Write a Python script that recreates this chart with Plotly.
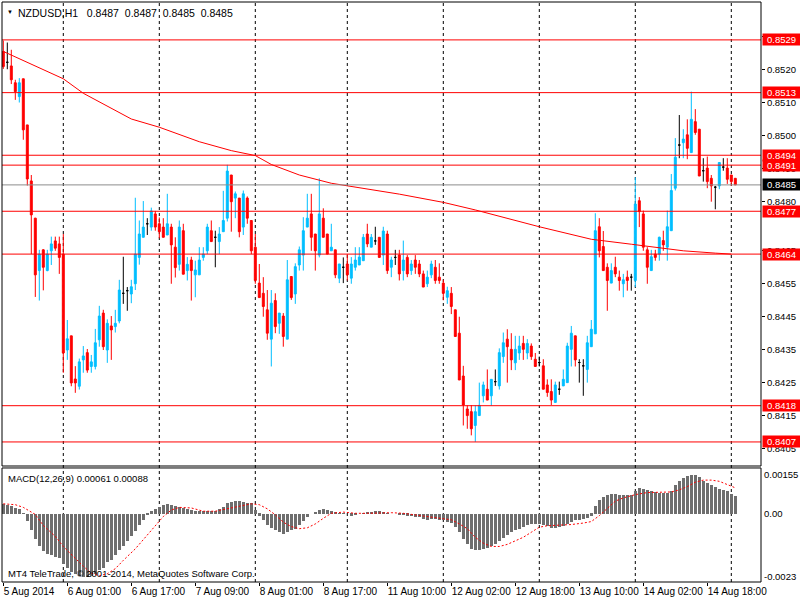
import plotly.graph_objects as go

# hourly bars shown on the chart: (day, first hour, last hour)
sessions = [("5 Aug", 9, 23), ("6 Aug", 0, 23), ("7 Aug", 0, 23), ("8 Aug", 0, 22),
            ("11 Aug", 0, 23), ("12 Aug", 0, 23), ("13 Aug", 0, 23), ("14 Aug", 0, 23),
            ("15 Aug", 0, 1)]

opens = [0.85255, 0.85222, 0.85211, 0.85160, 0.85118, 0.85172, 0.85032, 0.84862, 0.84749, 0.84590,
         0.84653, 0.84590, 0.84650, 0.84680, 0.84671, 0.84640, 0.84349, 0.84392, 0.84261, 0.84239,
         0.84319, 0.84341, 0.84299, 0.84299, 0.84380, 0.84461, 0.84349, 0.84422, 0.84420, 0.84437,
         0.84521, 0.84529, 0.84519, 0.84550, 0.84630, 0.84691, 0.84732, 0.84722, 0.84762, 0.84732,
         0.84722, 0.84698, 0.84722, 0.84661, 0.84609, 0.84711, 0.84590, 0.84622, 0.84577, 0.84577,
         0.84630, 0.84650, 0.84711, 0.84691, 0.84678, 0.84708, 0.84749, 0.84880, 0.84810, 0.84810,
         0.84722, 0.84810, 0.84742, 0.84661, 0.84552, 0.84521, 0.84471, 0.84382, 0.84499, 0.84430,
         0.84452, 0.84382, 0.84572, 0.84519, 0.84607, 0.84637, 0.84722, 0.84762, 0.84701, 0.84637,
         0.84749, 0.84701, 0.84650, 0.84653, 0.84567, 0.84600, 0.84610, 0.84567, 0.84600, 0.84607,
         0.84620, 0.84701, 0.84661, 0.84680, 0.84691, 0.84637, 0.84701, 0.84600, 0.84630, 0.84637,
         0.84590, 0.84630, 0.84590, 0.84622, 0.84610, 0.84580, 0.84550, 0.84577, 0.84600, 0.84570,
         0.84552, 0.84509, 0.84521, 0.84471, 0.84400, 0.84270, 0.84170, 0.84162, 0.84120, 0.84150,
         0.84210, 0.84230, 0.84210, 0.84253, 0.84240, 0.84329, 0.84382, 0.84351, 0.84310, 0.84340,
         0.84369, 0.84340, 0.84361, 0.84321, 0.84311, 0.84301, 0.84243, 0.84223, 0.84190, 0.84230,
         0.84240, 0.84250, 0.84351, 0.84392, 0.84311, 0.84301, 0.84290, 0.84359, 0.84398, 0.84723,
         0.84663, 0.84600, 0.84552, 0.84600, 0.84570, 0.84550, 0.84570, 0.84570, 0.84560, 0.84802,
         0.84762, 0.84653, 0.84590, 0.84640, 0.84640, 0.84681, 0.84661, 0.84711, 0.84840, 0.84971,
         0.84978, 0.85002, 0.84948, 0.85042, 0.85019, 0.84893, 0.84901, 0.84870, 0.84843, 0.84847,
         0.84904, 0.84901, 0.84880, 0.84870]
highs = [0.85288, 0.85282, 0.85260, 0.85169, 0.85174, 0.85172, 0.85032, 0.84880, 0.84750, 0.84653,
         0.84655, 0.84653, 0.84693, 0.84693, 0.84693, 0.84701, 0.84440, 0.84392, 0.84300, 0.84323,
         0.84361, 0.84352, 0.84334, 0.84413, 0.84483, 0.84471, 0.84442, 0.84452, 0.84471, 0.84562,
         0.84632, 0.84540, 0.84562, 0.84811, 0.84742, 0.84801, 0.84749, 0.84781, 0.84771, 0.84751,
         0.84749, 0.84823, 0.84732, 0.84691, 0.84742, 0.84732, 0.84631, 0.84632, 0.84620, 0.84661,
         0.84661, 0.84732, 0.84742, 0.84711, 0.84722, 0.84832, 0.84911, 0.84880, 0.84830, 0.84810,
         0.84833, 0.84815, 0.84742, 0.84701, 0.84610, 0.84570, 0.84531, 0.84531, 0.84521, 0.84461,
         0.84461, 0.84622, 0.84572, 0.84612, 0.84663, 0.84752, 0.84823, 0.84823, 0.84701, 0.84870,
         0.84779, 0.84701, 0.84732, 0.84653, 0.84610, 0.84630, 0.84640, 0.84631, 0.84661, 0.84661,
         0.84701, 0.84732, 0.84701, 0.84723, 0.84691, 0.84723, 0.84711, 0.84632, 0.84653, 0.84653,
         0.84681, 0.84637, 0.84622, 0.84637, 0.84622, 0.84590, 0.84590, 0.84620, 0.84622, 0.84612,
         0.84562, 0.84541, 0.84540, 0.84471, 0.84450, 0.84301, 0.84181, 0.84182, 0.84181, 0.84250,
         0.84253, 0.84290, 0.84260, 0.84290, 0.84354, 0.84402, 0.84412, 0.84400, 0.84392, 0.84392,
         0.84392, 0.84382, 0.84369, 0.84340, 0.84329, 0.84321, 0.84260, 0.84260, 0.84253, 0.84253,
         0.84290, 0.84371, 0.84422, 0.84392, 0.84321, 0.84321, 0.84392, 0.84440, 0.84764, 0.84749,
         0.84710, 0.84612, 0.84612, 0.84632, 0.84590, 0.84580, 0.84590, 0.84580, 0.84873, 0.84813,
         0.84772, 0.84661, 0.84653, 0.84653, 0.84693, 0.84711, 0.84772, 0.84883, 0.84992, 0.85062,
         0.85019, 0.85049, 0.85133, 0.85080, 0.85019, 0.84931, 0.84936, 0.84880, 0.84847, 0.84918,
         0.84931, 0.84931, 0.84880, 0.84870]
lows = [0.85202, 0.85201, 0.85156, 0.85108, 0.85100, 0.84987, 0.84848, 0.84640, 0.84510, 0.84499,
        0.84530, 0.84588, 0.84607, 0.84650, 0.84580, 0.84280, 0.84319, 0.84239, 0.84219, 0.84229,
        0.84280, 0.84280, 0.84280, 0.84290, 0.84359, 0.84349, 0.84310, 0.84319, 0.84402, 0.84430,
        0.84489, 0.84468, 0.84491, 0.84531, 0.84608, 0.84691, 0.84698, 0.84711, 0.84711, 0.84688,
        0.84691, 0.84698, 0.84550, 0.84569, 0.84590, 0.84579, 0.84560, 0.84499, 0.84509, 0.84577,
        0.84620, 0.84640, 0.84678, 0.84600, 0.84640, 0.84708, 0.84739, 0.84708, 0.84749, 0.84691,
        0.84698, 0.84732, 0.84640, 0.84550, 0.84508, 0.84450, 0.84380, 0.84299, 0.84400, 0.84398,
        0.84359, 0.84382, 0.84501, 0.84489, 0.84590, 0.84590, 0.84722, 0.84650, 0.84590, 0.84630,
        0.84691, 0.84640, 0.84650, 0.84567, 0.84552, 0.84552, 0.84560, 0.84550, 0.84590, 0.84607,
        0.84620, 0.84661, 0.84661, 0.84668, 0.84630, 0.84607, 0.84580, 0.84570, 0.84607, 0.84560,
        0.84560, 0.84570, 0.84577, 0.84580, 0.84570, 0.84540, 0.84540, 0.84567, 0.84550, 0.84550,
        0.84500, 0.84489, 0.84458, 0.84390, 0.84258, 0.84120, 0.84110, 0.84090, 0.84070, 0.84150,
        0.84190, 0.84197, 0.84180, 0.84240, 0.84229, 0.84310, 0.84250, 0.84288, 0.84288, 0.84319,
        0.84319, 0.84321, 0.84319, 0.84299, 0.84299, 0.84230, 0.84207, 0.84182, 0.84190, 0.84213,
        0.84240, 0.84250, 0.84299, 0.84299, 0.84250, 0.84210, 0.84250, 0.84359, 0.84398, 0.84630,
        0.84590, 0.84468, 0.84552, 0.84570, 0.84529, 0.84509, 0.84529, 0.84529, 0.84540, 0.84722,
        0.84650, 0.84550, 0.84590, 0.84620, 0.84620, 0.84650, 0.84620, 0.84711, 0.84833, 0.84931,
        0.84931, 0.84928, 0.84948, 0.85002, 0.84877, 0.84860, 0.84840, 0.84799, 0.84776, 0.84837,
        0.84893, 0.84853, 0.84847, 0.84850]
closes = [0.85209, 0.85222, 0.85169, 0.85133, 0.85160, 0.85017, 0.84868, 0.84759, 0.84577, 0.84640,
          0.84600, 0.84640, 0.84671, 0.84658, 0.84630, 0.84340, 0.84383, 0.84249, 0.84249, 0.84313,
          0.84331, 0.84288, 0.84313, 0.84371, 0.84452, 0.84359, 0.84430, 0.84410, 0.84430, 0.84531,
          0.84521, 0.84529, 0.84541, 0.84640, 0.84701, 0.84722, 0.84732, 0.84771, 0.84722, 0.84708,
          0.84691, 0.84732, 0.84668, 0.84599, 0.84722, 0.84579, 0.84609, 0.84590, 0.84592, 0.84622,
          0.84640, 0.84722, 0.84678, 0.84691, 0.84701, 0.84742, 0.84892, 0.84799, 0.84823, 0.84708,
          0.84823, 0.84749, 0.84650, 0.84560, 0.84508, 0.84481, 0.84400, 0.84491, 0.84420, 0.84461,
          0.84390, 0.84562, 0.84508, 0.84602, 0.84653, 0.84711, 0.84749, 0.84691, 0.84650, 0.84762,
          0.84691, 0.84640, 0.84661, 0.84577, 0.84610, 0.84600, 0.84577, 0.84610, 0.84622, 0.84631,
          0.84691, 0.84671, 0.84691, 0.84680, 0.84630, 0.84710, 0.84590, 0.84622, 0.84630, 0.84580,
          0.84622, 0.84580, 0.84610, 0.84600, 0.84580, 0.84540, 0.84570, 0.84610, 0.84560, 0.84560,
          0.84521, 0.84529, 0.84481, 0.84390, 0.84258, 0.84182, 0.84150, 0.84110, 0.84162, 0.84181,
          0.84243, 0.84197, 0.84260, 0.84253, 0.84341, 0.84371, 0.84359, 0.84319, 0.84351, 0.84361,
          0.84351, 0.84369, 0.84329, 0.84299, 0.84311, 0.84230, 0.84220, 0.84197, 0.84243, 0.84230,
          0.84260, 0.84361, 0.84400, 0.84319, 0.84311, 0.84301, 0.84371, 0.84412, 0.84711, 0.84650,
          0.84590, 0.84560, 0.84590, 0.84580, 0.84560, 0.84562, 0.84560, 0.84570, 0.84792, 0.84769,
          0.84661, 0.84600, 0.84632, 0.84630, 0.84691, 0.84668, 0.84723, 0.84833, 0.84934, 0.84971,
          0.84989, 0.84961, 0.85049, 0.85009, 0.84877, 0.84893, 0.84860, 0.84847, 0.84843, 0.84918,
          0.84904, 0.84867, 0.84860, 0.84850]

# moving average, read at a few bars
ma_idx = [0, 15, 20, 32, 39, 49, 57, 63, 67, 74, 82, 91, 99, 110, 118, 134, 147, 157, 170, 178, 182]
ma_val = [0.85255, 0.85172, 0.85128, 0.85050, 0.85025, 0.84981, 0.84954, 0.84939, 0.84912, 0.84880,
          0.84855, 0.84837, 0.84822, 0.84797, 0.84774, 0.84723, 0.84685, 0.84670, 0.84650, 0.84643,
          0.84640]

macd_hist = [0.00034, 0.00031, 0.00026, 0.00020, 0.00015, 0.00003, -0.00025, -0.00053, -0.00086, -0.00107,
             -0.00126, -0.00135, -0.00139, -0.00144, -0.00148, -0.00168, -0.00182, -0.00195, -0.00204, -0.00210,
             -0.00213, -0.00213, -0.00209, -0.00202, -0.00191, -0.00182, -0.00163, -0.00155, -0.00140, -0.00123,
             -0.00110, -0.00090, -0.00074, -0.00058, -0.00039, -0.00022, -0.00003, 0.00011, 0.00016, 0.00025,
             0.00029, 0.00033, 0.00029, 0.00026, 0.00022, 0.00019, 0.00016, 0.00013, 0.00011, 0.00009,
             0.00009, 0.00011, 0.00011, 0.00011, 0.00016, 0.00022, 0.00036, 0.00039, 0.00045, 0.00043,
             0.00040, 0.00038, 0.00036, 0.00013, -0.00006, -0.00022, -0.00036, -0.00048, -0.00056, -0.00062,
             -0.00067, -0.00062, -0.00056, -0.00051, -0.00039, -0.00025, -0.00011, 0.00000, 0.00006, 0.00013,
             0.00016, 0.00013, 0.00009, 0.00006, 0.00003, 0.00002, 0.00000, -0.00006, -0.00002, 0.00000,
             0.00002, 0.00006, 0.00008, 0.00009, 0.00009, 0.00004, 0.00002, 0.00000, 0.00000, -0.00002,
             -0.00003, -0.00006, -0.00007, -0.00009, -0.00011, -0.00017, -0.00020, -0.00017, -0.00018, -0.00020,
             -0.00022, -0.00026, -0.00030, -0.00045, -0.00062, -0.00084, -0.00103, -0.00117, -0.00121, -0.00121,
             -0.00119, -0.00114, -0.00110, -0.00101, -0.00092, -0.00081, -0.00070, -0.00062, -0.00056, -0.00050,
             -0.00045, -0.00039, -0.00034, -0.00034, -0.00034, -0.00037, -0.00042, -0.00046, -0.00048, -0.00045,
             -0.00040, -0.00034, -0.00028, -0.00022, -0.00020, -0.00018, -0.00013, -0.00006, 0.00028, 0.00047,
             0.00056, 0.00063, 0.00066, 0.00067, 0.00065, 0.00065, 0.00065, 0.00065, 0.00079, 0.00088,
             0.00084, 0.00081, 0.00076, 0.00074, 0.00072, 0.00070, 0.00070, 0.00079, 0.00097, 0.00110,
             0.00121, 0.00128, 0.00132, 0.00132, 0.00123, 0.00112, 0.00106, 0.00099, 0.00090, 0.00083,
             0.00081, 0.00076, 0.00067, 0.00061]
sig_idx = [0, 3, 5, 8, 10, 13, 15, 18, 20, 22, 24, 26, 28, 30, 33, 35, 38, 40, 42, 44,
           47, 50, 53, 56, 59, 62, 64, 66, 68, 70, 72, 74, 76, 78, 80, 82, 85, 88, 91, 94,
           97, 100, 103, 106, 109, 112, 114, 116, 118, 120, 122, 124, 126, 128, 130, 132, 134, 136, 139, 142,
           145, 147, 149, 151, 153, 155, 158, 161, 164, 167, 169, 171, 173, 175, 177, 179, 181, 183]
sig_val = [0.00034, 0.00031, 0.00022, -0.00002, -0.00039, -0.00076, -0.00110, -0.00151, -0.00177, -0.00200,
           -0.00209, -0.00202, -0.00185, -0.00157, -0.00118, -0.00087, -0.00039, -0.00009, 0.00013, 0.00022,
           0.00020, 0.00009, 0.00009, 0.00017, 0.00026, 0.00034, 0.00031, 0.00017, -0.00003, -0.00028,
           -0.00043, -0.00050, -0.00047, -0.00034, -0.00015, 0.00002, 0.00006, 0.00002, 0.00002, 0.00004,
           0.00004, 0.00002, -0.00003, -0.00009, -0.00015, -0.00020, -0.00034, -0.00050, -0.00079, -0.00099,
           -0.00110, -0.00110, -0.00103, -0.00090, -0.00079, -0.00062, -0.00045, -0.00040, -0.00039, -0.00036,
           -0.00031, -0.00026, -0.00006, 0.00019, 0.00043, 0.00054, 0.00065, 0.00072, 0.00073, 0.00074,
           0.00081, 0.00092, 0.00107, 0.00114, 0.00114, 0.00110, 0.00099, 0.00088]

levels = [0.8529, 0.8513, 0.8494, 0.8491, 0.8477, 0.8464, 0.8418, 0.8407]
bid = 0.8485
price_ticks = [0.8530, 0.8520, 0.8510, 0.8500, 0.8490, 0.8480, 0.8465, 0.8455, 0.8445, 0.8435,
               0.8425, 0.8415, 0.8405]

bar_day, bar_hour = [], []
for day, h0, h1 in sessions:
    for h in range(h0, h1 + 1):
        bar_day.append(day)
        bar_hour.append(h)
n = len(bar_day)
x = list(range(n))
label_idx = list(range(0, n, 16))
label_txt = [f"{bar_day[i]} {bar_hour[i]:02d}:00" for i in label_idx]
label_txt[0] = "5 Aug 2014"
day_starts = [i for i in x if bar_hour[i] == 0]

BLUE, RED = "#00BFFF", "#FF0000"
FONT = "Liberation Sans, Arial, sans-serif"

move = [i for i in x if opens[i] != closes[i]]
doji = [i for i in x if opens[i] == closes[i]]

fig = go.Figure()
fig.add_trace(go.Candlestick(
    x=move, open=[opens[i] for i in move], high=[highs[i] for i in move],
    low=[lows[i] for i in move], close=[closes[i] for i in move],
    increasing=dict(line=dict(color=BLUE, width=1), fillcolor=BLUE),
    decreasing=dict(line=dict(color=RED, width=1), fillcolor=RED),
    hoverinfo="skip"))
fig.add_trace(go.Candlestick(
    x=doji, open=[opens[i] for i in doji], high=[highs[i] for i in doji],
    low=[lows[i] for i in doji], close=[closes[i] for i in doji],
    increasing=dict(line=dict(color="black", width=1), fillcolor="black"),
    decreasing=dict(line=dict(color="black", width=1), fillcolor="black"),
    hoverinfo="skip"))
fig.add_trace(go.Scatter(x=ma_idx, y=ma_val, mode="lines", line=dict(color=RED, width=1),
                         hoverinfo="skip"))
fig.add_trace(go.Bar(x=x, y=macd_hist, xaxis="x2", yaxis="y2", width=0.72,
                     marker=dict(color="#6E6E6E", line=dict(width=0)), hoverinfo="skip"))
fig.add_trace(go.Scatter(x=sig_idx, y=sig_val, xaxis="x2", yaxis="y2", mode="lines",
                         line=dict(color=RED, width=1, dash="2px,2px"), hoverinfo="skip"))

shapes = []
for d in day_starts:
    shapes.append(dict(type="line", xref="x", yref="paper", x0=d, x1=d, y0=0, y1=1,
                       line=dict(color="black", width=1, dash="3px,3px"), layer="below"))
for lv in levels:
    shapes.append(dict(type="line", xref="paper", yref="y", x0=0, x1=1, y0=lv, y1=lv,
                       line=dict(color=RED, width=1)))
shapes.append(dict(type="line", xref="paper", yref="y", x0=0, x1=1, y0=bid, y1=bid,
                   line=dict(color="#8C8C8C", width=1)))
for xr, yr in [("x domain", "y domain"), ("x2 domain", "y2 domain")]:
    shapes.append(dict(type="rect", xref=xr, yref=yr, x0=0, x1=1, y0=0, y1=1,
                       line=dict(color="black", width=1)))

ann = []
for lv in levels:
    ann.append(dict(xref="paper", yref="y", x=1, y=lv, xanchor="left", xshift=1,
                    text=f"{lv:.4f}", showarrow=False, bgcolor=RED, borderpad=0,
                    width=37, height=11, font=dict(color="white", size=9.5)))
ann.append(dict(xref="paper", yref="y", x=1, y=bid, xanchor="left", xshift=1,
                text=f"{bid:.4f}", showarrow=False, bgcolor="black", borderpad=0,
                width=37, height=11, font=dict(color="white", size=9.5)))
for val, txt, dy in [(0.00155, "0.00155", -7), (0.0, "0.00", 0), (-0.0023, "-0.0023", 6)]:
    ann.append(dict(xref="paper", yref="y2", x=1, y=val, xanchor="left", xshift=1, yshift=dy,
                    text=txt, showarrow=False, font=dict(size=9.5)))
ann.append(dict(xref="paper", yref="paper", x=0, y=1, xanchor="center", yanchor="top",
                xshift=8, yshift=-5, text="▼", showarrow=False, font=dict(size=6)))
ann.append(dict(xref="paper", yref="paper", x=0, y=1, xanchor="left", yanchor="top",
                xshift=14, yshift=-3, showarrow=False, font=dict(size=10.5),
                text="NZDUSD,H1\u00a0\u00a0 0.8487\u00a0 0.8487\u00a0 0.8485\u00a0 0.8485"))
ann.append(dict(xref="paper", yref="y2 domain", x=0, y=1, xanchor="left", yanchor="top",
                xshift=4, yshift=-3, showarrow=False, font=dict(size=9.5),
                text="MACD(12,26,9) 0.00061 0.00088"))
ann.append(dict(xref="paper", yref="y2 domain", x=0, y=0, xanchor="left", yanchor="bottom",
                xshift=4, yshift=1, showarrow=False, font=dict(size=9.5),
                text="MT4 TeleTrade, © 2001-2014, MetaQuotes Software Corp."))

fig.update_layout(
    width=800, height=600, margin=dict(l=2, r=39, t=2, b=18),
    paper_bgcolor="white", plot_bgcolor="white", showlegend=False,
    font=dict(family=FONT, size=9.5, color="black"),
    shapes=shapes, annotations=ann, bargap=0,
    xaxis=dict(domain=[0, 1], range=[-0.325, 189.425], anchor="y", showticklabels=False,
               showgrid=False, zeroline=False, rangeslider=dict(visible=False), ticks=""),
    xaxis2=dict(matches="x", anchor="y2", tickvals=label_idx, ticktext=label_txt, tickangle=0,
                ticks="outside", ticklen=3, tickcolor="black", ticklabelposition="outside right",
                tickfont=dict(size=10), showgrid=False, zeroline=False, automargin=False),
    yaxis=dict(domain=[0.2, 1], range=[0.83997, 0.85405], side="right", anchor="x",
               tickvals=price_ticks, tickformat=".4f", ticks="outside", ticklen=3,
               tickcolor="black", showgrid=False, zeroline=False, automargin=False),
    yaxis2=dict(domain=[0, 0.1966], range=[-0.0023, 0.00155], side="right", anchor="x2",
                showticklabels=False, showgrid=False, zeroline=False),
)
# the page body has a default 8px margin; drop it so the figure fills the window
fig.write_html("out.html", config={"displayModeBar": False},
               post_script="document.body.style.margin='0';")
